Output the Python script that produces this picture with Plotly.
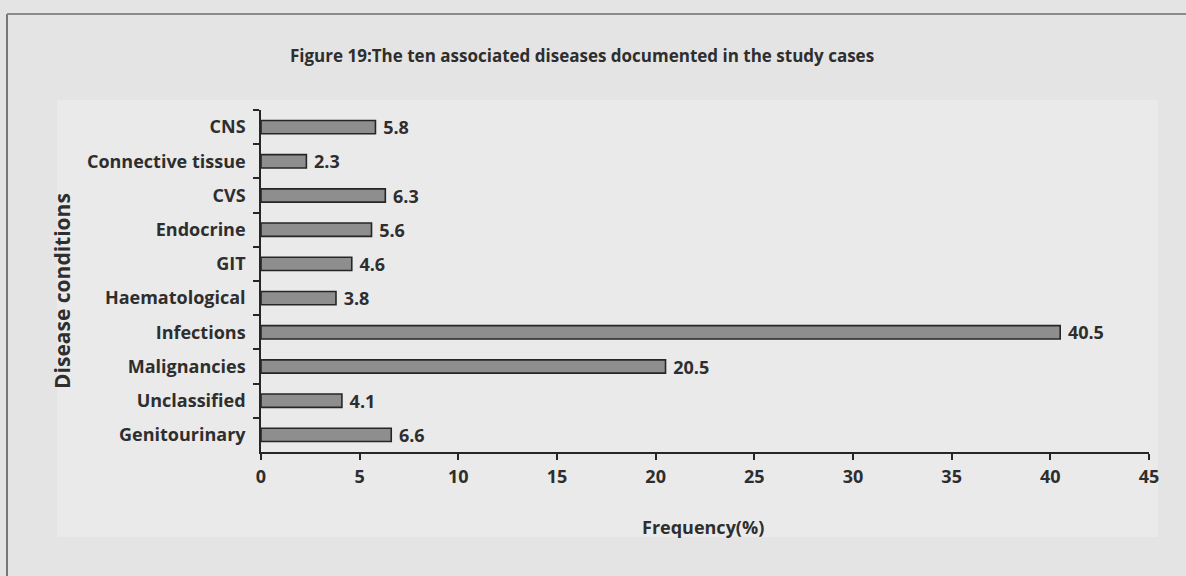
import plotly.graph_objects as go

# Associated diseases and their frequency (%) among the study cases
conditions = ["CNS", "Connective tissue", "CVS", "Endocrine", "GIT",
              "Haematological", "Infections", "Malignancies", "Unclassified",
              "Genitourinary"]
frequency = [5.8, 2.3, 6.3, 5.6, 4.6, 3.8, 40.5, 20.5, 4.1, 6.6]
x_ticks = [0, 5, 10, 15, 20, 25, 30, 35, 40, 45]

W, H = 1186, 576
L, R, T, B = 261, 37, 110, 124
pw, ph = W - L - R, H - T - B


def px(x):
    return (x - L) / pw


def py(y):
    return (H - B - y) / ph


FONT = "'Open Sans', Lato, sans-serif"
INK = "#2e2e2e"
AXIS = "#262626"

fig = go.Figure(go.Bar(
    x=frequency,
    y=conditions,
    orientation="h",
    marker=dict(color="#8e8e8e", line=dict(color=AXIS, width=1.6)),
    width=0.39,
    text=[f" {v}" for v in frequency],
    textposition="outside",
    constraintext="none",
    textfont=dict(family=FONT, size=18, color=INK, weight="bold"),
    cliponaxis=False,
))

fig.update_layout(
    width=W, height=H,
    margin=dict(l=L, r=R, t=T, b=B),
    paper_bgcolor="#e4e4e4",
    plot_bgcolor="rgba(0,0,0,0)",
    showlegend=False,
    font=dict(family=FONT, color=INK),
    xaxis=dict(
        range=[0, 45], tickvals=x_ticks, ticktext=[str(t) for t in x_ticks],
        showgrid=False, zeroline=False, showline=True, linecolor=AXIS,
        linewidth=1.6, ticks="outside", ticklen=6, tickwidth=1.6,
        tickcolor=AXIS, ticklabelstandoff=2,
        tickfont=dict(family=FONT, size=18, color=INK, weight="bold"),
    ),
    yaxis=dict(
        categoryorder="array", categoryarray=conditions,
        autorange="reversed", tickson="boundaries",
        showgrid=False, zeroline=False, showline=True, linecolor=AXIS,
        linewidth=1.6, ticks="outside", ticklen=6, tickwidth=1.6,
        tickcolor=AXIS, ticklabelstandoff=10,
        tickfont=dict(family=FONT, size=18, color=INK, weight="bold"),
    ),
    shapes=[
        # lighter panel behind the chart
        dict(type="rect", xref="paper", yref="paper",
             x0=px(57), x1=px(1158), y0=py(537), y1=py(100),
             fillcolor="#eaeaea", line=dict(width=0), layer="below"),
        # figure frame
        dict(type="line", xref="paper", yref="paper",
             x0=px(7), x1=px(7), y0=py(14), y1=py(576),
             line=dict(color="#777777", width=2)),
        dict(type="line", xref="paper", yref="paper",
             x0=px(7), x1=px(1186), y0=py(14), y1=py(14),
             line=dict(color="#8a8a8a", width=2)),
    ],
    annotations=[
        dict(text="Figure 19:The ten associated diseases documented in the study cases",
             xref="paper", yref="paper", x=px(582), y=py(55),
             xanchor="center", yanchor="middle", showarrow=False,
             font=dict(family=FONT, size=17, color=INK, weight="bold")),
        dict(text="Disease conditions", textangle=-90,
             xref="paper", yref="paper", x=px(62), y=py(291),
             xanchor="center", yanchor="middle", showarrow=False,
             font=dict(family=FONT, size=21, color=INK, weight="bold")),
        dict(text="Frequency(%)",
             xref="paper", yref="paper", x=px(703), y=py(527),
             xanchor="center", yanchor="middle", showarrow=False,
             font=dict(family=FONT, size=18, color=INK, weight="bold")),
    ],
)

fig.write_html("out.html")
